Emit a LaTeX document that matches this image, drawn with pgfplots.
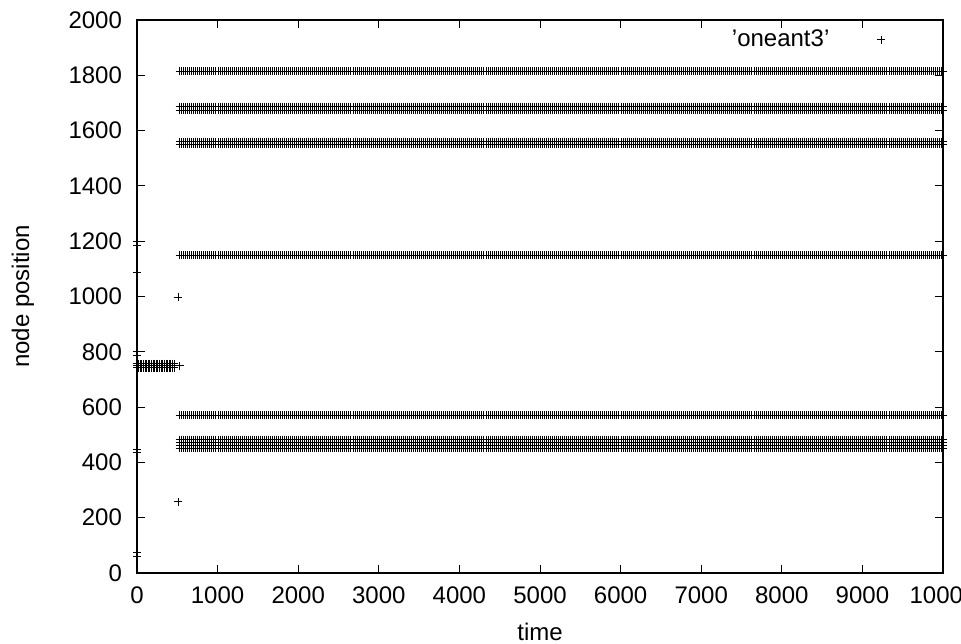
\documentclass[border=0pt]{standalone}
\usepackage{fontspec}
\setmainfont{Liberation Sans}
\usepackage{pgfplots}
\usepackage{pgfplotstable}
\pgfplotsset{compat=1.18}
\usetikzlibrary{calc}

\pgfplotstableread{
x w a b c d e f g h i j k
530 555 1815 1687 1673 1559 1551 1150 571 482 472 462 452
580 605 1815 1687 1673 1559 1551 1150 571 482 472 462 452
630 655 1815 1687 1673 1559 1551 1150 571 482 472 462 452
680 705 1815 1687 1673 1559 1551 1150 571 482 472 462 452
730 755 1815 1687 1673 1559 1551 1150 571 482 472 462 452
780 805 1815 1687 1673 1559 1551 1150 571 482 472 462 452
830 855 1815 1687 1673 1559 1551 1150 571 482 472 462 452
880 905 1815 1687 1673 1559 1551 1150 571 482 472 462 452
930 955 1815 1687 1673 1559 1551 1150 571 482 472 462 452
980 1005 1815 1687 1673 1559 1551 1150 571 482 472 462 452
1030 1055 1815 1687 1673 1559 1551 1150 571 482 472 462 452
1080 1105 1815 1687 1673 1559 1551 1150 571 482 472 462 452
1130 1155 1815 1687 1673 1559 1551 1150 571 482 472 462 452
1180 1205 1815 1687 1673 1559 1551 1150 571 482 472 462 452
1230 1255 1815 1687 1673 1559 1551 1150 571 482 472 462 452
1280 1305 1815 1687 1673 1559 1551 1150 571 482 472 462 452
1330 1355 1815 1687 1673 1559 1551 1150 571 482 472 462 452
1380 1405 1815 1687 1673 1559 1551 1150 571 482 472 462 452
1430 1455 1815 1687 1673 1559 1551 1150 571 482 472 462 452
1480 1505 1815 1687 1673 1559 1551 1150 571 482 472 462 452
1530 1555 1815 1687 1673 1559 1551 1150 571 482 472 462 452
1580 1605 1815 1687 1673 1559 1551 1150 571 482 472 462 452
1630 1655 1815 1687 1673 1559 1551 1150 571 482 472 462 452
1680 1705 1815 1687 1673 1559 1551 1150 571 482 472 462 452
1730 1755 1815 1687 1673 1559 1551 1150 571 482 472 462 452
1780 1805 1815 1687 1673 1559 1551 1150 571 482 472 462 452
1830 1855 1815 1687 1673 1559 1551 1150 571 482 472 462 452
1880 1905 1815 1687 1673 1559 1551 1150 571 482 472 462 452
1930 1955 1815 1687 1673 1559 1551 1150 571 482 472 462 452
1980 2005 1815 1687 1673 1559 1551 1150 571 482 472 462 452
2030 2055 1815 1687 1673 1559 1551 1150 571 482 472 462 452
2080 2105 1815 1687 1673 1559 1551 1150 571 482 472 462 452
2130 2155 1815 1687 1673 1559 1551 1150 571 482 472 462 452
2180 2205 1815 1687 1673 1559 1551 1150 571 482 472 462 452
2230 2255 1815 1687 1673 1559 1551 1150 571 482 472 462 452
2280 2305 1815 1687 1673 1559 1551 1150 571 482 472 462 452
2330 2355 1815 1687 1673 1559 1551 1150 571 482 472 462 452
2380 2405 1815 1687 1673 1559 1551 1150 571 482 472 462 452
2430 2455 1815 1687 1673 1559 1551 1150 571 482 472 462 452
2480 2505 1815 1687 1673 1559 1551 1150 571 482 472 462 452
2530 2555 1815 1687 1673 1559 1551 1150 571 482 472 462 452
2580 2605 1815 1687 1673 1559 1551 1150 571 482 472 462 452
2630 2655 1815 1687 1673 1559 1551 1150 571 482 472 462 452
2680 2705 1815 1687 1673 1559 1551 1150 571 482 472 462 452
2730 2755 1815 1687 1673 1559 1551 1150 571 482 472 462 452
2780 2805 1815 1687 1673 1559 1551 1150 571 482 472 462 452
2830 2855 1815 1687 1673 1559 1551 1150 571 482 472 462 452
2880 2905 1815 1687 1673 1559 1551 1150 571 482 472 462 452
2930 2955 1815 1687 1673 1559 1551 1150 571 482 472 462 452
2980 3005 1815 1687 1673 1559 1551 1150 571 482 472 462 452
3030 3055 1815 1687 1673 1559 1551 1150 571 482 472 462 452
3080 3105 1815 1687 1673 1559 1551 1150 571 482 472 462 452
3130 3155 1815 1687 1673 1559 1551 1150 571 482 472 462 452
3180 3205 1815 1687 1673 1559 1551 1150 571 482 472 462 452
3230 3255 1815 1687 1673 1559 1551 1150 571 482 472 462 452
3280 3305 1815 1687 1673 1559 1551 1150 571 482 472 462 452
3330 3355 1815 1687 1673 1559 1551 1150 571 482 472 462 452
3380 3405 1815 1687 1673 1559 1551 1150 571 482 472 462 452
3430 3455 1815 1687 1673 1559 1551 1150 571 482 472 462 452
3480 3505 1815 1687 1673 1559 1551 1150 571 482 472 462 452
3530 3555 1815 1687 1673 1559 1551 1150 571 482 472 462 452
3580 3605 1815 1687 1673 1559 1551 1150 571 482 472 462 452
3630 3655 1815 1687 1673 1559 1551 1150 571 482 472 462 452
3680 3705 1815 1687 1673 1559 1551 1150 571 482 472 462 452
3730 3755 1815 1687 1673 1559 1551 1150 571 482 472 462 452
3780 3805 1815 1687 1673 1559 1551 1150 571 482 472 462 452
3830 3855 1815 1687 1673 1559 1551 1150 571 482 472 462 452
3880 3905 1815 1687 1673 1559 1551 1150 571 482 472 462 452
3930 3955 1815 1687 1673 1559 1551 1150 571 482 472 462 452
3980 4005 1815 1687 1673 1559 1551 1150 571 482 472 462 452
4030 4055 1815 1687 1673 1559 1551 1150 571 482 472 462 452
4080 4105 1815 1687 1673 1559 1551 1150 571 482 472 462 452
4130 4155 1815 1687 1673 1559 1551 1150 571 482 472 462 452
4180 4205 1815 1687 1673 1559 1551 1150 571 482 472 462 452
4230 4255 1815 1687 1673 1559 1551 1150 571 482 472 462 452
4280 4305 1815 1687 1673 1559 1551 1150 571 482 472 462 452
4330 4355 1815 1687 1673 1559 1551 1150 571 482 472 462 452
4380 4405 1815 1687 1673 1559 1551 1150 571 482 472 462 452
4430 4455 1815 1687 1673 1559 1551 1150 571 482 472 462 452
4480 4505 1815 1687 1673 1559 1551 1150 571 482 472 462 452
4530 4555 1815 1687 1673 1559 1551 1150 571 482 472 462 452
4580 4605 1815 1687 1673 1559 1551 1150 571 482 472 462 452
4630 4655 1815 1687 1673 1559 1551 1150 571 482 472 462 452
4680 4705 1815 1687 1673 1559 1551 1150 571 482 472 462 452
4730 4755 1815 1687 1673 1559 1551 1150 571 482 472 462 452
4780 4805 1815 1687 1673 1559 1551 1150 571 482 472 462 452
4830 4855 1815 1687 1673 1559 1551 1150 571 482 472 462 452
4880 4905 1815 1687 1673 1559 1551 1150 571 482 472 462 452
4930 4955 1815 1687 1673 1559 1551 1150 571 482 472 462 452
4980 5005 1815 1687 1673 1559 1551 1150 571 482 472 462 452
5030 5055 1815 1687 1673 1559 1551 1150 571 482 472 462 452
5080 5105 1815 1687 1673 1559 1551 1150 571 482 472 462 452
5130 5155 1815 1687 1673 1559 1551 1150 571 482 472 462 452
5180 5205 1815 1687 1673 1559 1551 1150 571 482 472 462 452
5230 5255 1815 1687 1673 1559 1551 1150 571 482 472 462 452
5280 5305 1815 1687 1673 1559 1551 1150 571 482 472 462 452
5330 5355 1815 1687 1673 1559 1551 1150 571 482 472 462 452
5380 5405 1815 1687 1673 1559 1551 1150 571 482 472 462 452
5430 5455 1815 1687 1673 1559 1551 1150 571 482 472 462 452
5480 5505 1815 1687 1673 1559 1551 1150 571 482 472 462 452
5530 5555 1815 1687 1673 1559 1551 1150 571 482 472 462 452
5580 5605 1815 1687 1673 1559 1551 1150 571 482 472 462 452
5630 5655 1815 1687 1673 1559 1551 1150 571 482 472 462 452
5680 5705 1815 1687 1673 1559 1551 1150 571 482 472 462 452
5730 5755 1815 1687 1673 1559 1551 1150 571 482 472 462 452
5780 5805 1815 1687 1673 1559 1551 1150 571 482 472 462 452
5830 5855 1815 1687 1673 1559 1551 1150 571 482 472 462 452
5880 5905 1815 1687 1673 1559 1551 1150 571 482 472 462 452
5930 5955 1815 1687 1673 1559 1551 1150 571 482 472 462 452
5980 6005 1815 1687 1673 1559 1551 1150 571 482 472 462 452
6030 6055 1815 1687 1673 1559 1551 1150 571 482 472 462 452
6080 6105 1815 1687 1673 1559 1551 1150 571 482 472 462 452
6130 6155 1815 1687 1673 1559 1551 1150 571 482 472 462 452
6180 6205 1815 1687 1673 1559 1551 1150 571 482 472 462 452
6230 6255 1815 1687 1673 1559 1551 1150 571 482 472 462 452
6280 6305 1815 1687 1673 1559 1551 1150 571 482 472 462 452
6330 6355 1815 1687 1673 1559 1551 1150 571 482 472 462 452
6380 6405 1815 1687 1673 1559 1551 1150 571 482 472 462 452
6430 6455 1815 1687 1673 1559 1551 1150 571 482 472 462 452
6480 6505 1815 1687 1673 1559 1551 1150 571 482 472 462 452
6530 6555 1815 1687 1673 1559 1551 1150 571 482 472 462 452
6580 6605 1815 1687 1673 1559 1551 1150 571 482 472 462 452
6630 6655 1815 1687 1673 1559 1551 1150 571 482 472 462 452
6680 6705 1815 1687 1673 1559 1551 1150 571 482 472 462 452
6730 6755 1815 1687 1673 1559 1551 1150 571 482 472 462 452
6780 6805 1815 1687 1673 1559 1551 1150 571 482 472 462 452
6830 6855 1815 1687 1673 1559 1551 1150 571 482 472 462 452
6880 6905 1815 1687 1673 1559 1551 1150 571 482 472 462 452
6930 6955 1815 1687 1673 1559 1551 1150 571 482 472 462 452
6980 7005 1815 1687 1673 1559 1551 1150 571 482 472 462 452
7030 7055 1815 1687 1673 1559 1551 1150 571 482 472 462 452
7080 7105 1815 1687 1673 1559 1551 1150 571 482 472 462 452
7130 7155 1815 1687 1673 1559 1551 1150 571 482 472 462 452
7180 7205 1815 1687 1673 1559 1551 1150 571 482 472 462 452
7230 7255 1815 1687 1673 1559 1551 1150 571 482 472 462 452
7280 7305 1815 1687 1673 1559 1551 1150 571 482 472 462 452
7330 7355 1815 1687 1673 1559 1551 1150 571 482 472 462 452
7380 7405 1815 1687 1673 1559 1551 1150 571 482 472 462 452
7430 7455 1815 1687 1673 1559 1551 1150 571 482 472 462 452
7480 7505 1815 1687 1673 1559 1551 1150 571 482 472 462 452
7530 7555 1815 1687 1673 1559 1551 1150 571 482 472 462 452
7580 7605 1815 1687 1673 1559 1551 1150 571 482 472 462 452
7630 7655 1815 1687 1673 1559 1551 1150 571 482 472 462 452
7680 7705 1815 1687 1673 1559 1551 1150 571 482 472 462 452
7730 7755 1815 1687 1673 1559 1551 1150 571 482 472 462 452
7780 7805 1815 1687 1673 1559 1551 1150 571 482 472 462 452
7830 7855 1815 1687 1673 1559 1551 1150 571 482 472 462 452
7880 7905 1815 1687 1673 1559 1551 1150 571 482 472 462 452
7930 7955 1815 1687 1673 1559 1551 1150 571 482 472 462 452
7980 8005 1815 1687 1673 1559 1551 1150 571 482 472 462 452
8030 8055 1815 1687 1673 1559 1551 1150 571 482 472 462 452
8080 8105 1815 1687 1673 1559 1551 1150 571 482 472 462 452
8130 8155 1815 1687 1673 1559 1551 1150 571 482 472 462 452
8180 8205 1815 1687 1673 1559 1551 1150 571 482 472 462 452
8230 8255 1815 1687 1673 1559 1551 1150 571 482 472 462 452
8280 8305 1815 1687 1673 1559 1551 1150 571 482 472 462 452
8330 8355 1815 1687 1673 1559 1551 1150 571 482 472 462 452
8380 8405 1815 1687 1673 1559 1551 1150 571 482 472 462 452
8430 8455 1815 1687 1673 1559 1551 1150 571 482 472 462 452
8480 8505 1815 1687 1673 1559 1551 1150 571 482 472 462 452
8530 8555 1815 1687 1673 1559 1551 1150 571 482 472 462 452
8580 8605 1815 1687 1673 1559 1551 1150 571 482 472 462 452
8630 8655 1815 1687 1673 1559 1551 1150 571 482 472 462 452
8680 8705 1815 1687 1673 1559 1551 1150 571 482 472 462 452
8730 8755 1815 1687 1673 1559 1551 1150 571 482 472 462 452
8780 8805 1815 1687 1673 1559 1551 1150 571 482 472 462 452
8830 8855 1815 1687 1673 1559 1551 1150 571 482 472 462 452
8880 8905 1815 1687 1673 1559 1551 1150 571 482 472 462 452
8930 8955 1815 1687 1673 1559 1551 1150 571 482 472 462 452
8980 9005 1815 1687 1673 1559 1551 1150 571 482 472 462 452
9030 9055 1815 1687 1673 1559 1551 1150 571 482 472 462 452
9080 9105 1815 1687 1673 1559 1551 1150 571 482 472 462 452
9130 9155 1815 1687 1673 1559 1551 1150 571 482 472 462 452
9180 9205 1815 1687 1673 1559 1551 1150 571 482 472 462 452
9230 9255 1815 1687 1673 1559 1551 1150 571 482 472 462 452
9280 9305 1815 1687 1673 1559 1551 1150 571 482 472 462 452
9330 9355 1815 1687 1673 1559 1551 1150 571 482 472 462 452
9380 9405 1815 1687 1673 1559 1551 1150 571 482 472 462 452
9430 9455 1815 1687 1673 1559 1551 1150 571 482 472 462 452
9480 9505 1815 1687 1673 1559 1551 1150 571 482 472 462 452
9530 9555 1815 1687 1673 1559 1551 1150 571 482 472 462 452
9580 9605 1815 1687 1673 1559 1551 1150 571 482 472 462 452
9630 9655 1815 1687 1673 1559 1551 1150 571 482 472 462 452
9680 9705 1815 1687 1673 1559 1551 1150 571 482 472 462 452
9730 9755 1815 1687 1673 1559 1551 1150 571 482 472 462 452
9780 9805 1815 1687 1673 1559 1551 1150 571 482 472 462 452
9830 9855 1815 1687 1673 1559 1551 1150 571 482 472 462 452
9880 9905 1815 1687 1673 1559 1551 1150 571 482 472 462 452
9930 9955 1815 1687 1673 1559 1551 1150 571 482 472 462 452
9980 9990 1815 1687 1673 1559 1551 1150 571 482 472 462 452
10000 10000 1815 1687 1673 1559 1551 1150 571 482 472 462 452
}\rows

\pgfplotstableread{
x a b c
0 742 749 756
20 742 749 756
40 742 749 756
60 742 749 756
80 742 749 756
100 742 749 756
120 742 749 756
140 742 749 756
160 742 749 756
180 742 749 756
200 742 749 756
220 742 749 756
240 742 749 756
260 742 749 756
280 742 749 756
300 742 749 756
320 742 749 756
340 742 749 756
360 742 749 756
380 742 749 756
400 742 749 756
420 742 749 756
440 742 749 756
460 742 749 756
}\cluster

\begin{document}
\begin{tikzpicture}
\pgfplotsset{
  every axis/.append style={font=\fontsize{12}{14}\selectfont},
  /pgf/number format/1000 sep={},
  pt/.style={only marks, mark=+, mark size=2pt, black, line width=0.5pt},
}
\begin{axis}[
  name=ax,
  scale only axis,
  width=403pt, height=276.5pt,
  xmin=0, xmax=10000, ymin=0, ymax=2000,
  xtick={0,1000,...,10000},
  ytick={0,200,...,2000},
  scaled x ticks=false,
  /pgf/number format/assume math mode=true,
  tick align=inside,
  major tick length=4pt,
  tick style={black, line width=0.5pt},
  axis line style={black, line width=0.6pt},
  yticklabel style={xshift=-4pt},
  xticklabel style={yshift=-3.5pt},
  xlabel={time},
  ylabel={node position},
  every axis x label/.style={at={(axis description cs:0.5,-0.1067)}, anchor=center},
  every axis y label/.style={at={(axis description cs:-0.1414,0.5)}, rotate=90, anchor=center},
  legend plot pos=right,
  legend style={draw=none, fill=none, at={(axis description cs:0.991,0.964)}, anchor=east, font=\fontsize{12}{14}\selectfont},
  legend image code/.code={\path[draw=none] (0pt,0pt) -- (48pt,0pt); \draw[#1, only marks] plot coordinates {(24pt,0pt)};},
]
\addplot[pt] table[x=x, y=a] {\rows};
\addlegendentry{'oneant3'}
\addplot[pt, forget plot] table[x=w, y=a] {\rows};
\addplot[pt, forget plot] table[x=x, y=b] {\rows};
\addplot[pt, forget plot] table[x=w, y=b] {\rows};
\addplot[pt, forget plot] table[x=x, y=c] {\rows};
\addplot[pt, forget plot] table[x=w, y=c] {\rows};
\addplot[pt, forget plot] table[x=x, y=d] {\rows};
\addplot[pt, forget plot] table[x=w, y=d] {\rows};
\addplot[pt, forget plot] table[x=x, y=e] {\rows};
\addplot[pt, forget plot] table[x=w, y=e] {\rows};
\addplot[pt, forget plot] table[x=x, y=f] {\rows};
\addplot[pt, forget plot] table[x=w, y=f] {\rows};
\addplot[pt, forget plot] table[x=x, y=g] {\rows};
\addplot[pt, forget plot] table[x=w, y=g] {\rows};
\addplot[pt, forget plot] table[x=x, y=h] {\rows};
\addplot[pt, forget plot] table[x=w, y=h] {\rows};
\addplot[pt, forget plot] table[x=x, y=i] {\rows};
\addplot[pt, forget plot] table[x=w, y=i] {\rows};
\addplot[pt, forget plot] table[x=x, y=j] {\rows};
\addplot[pt, forget plot] table[x=w, y=j] {\rows};
\addplot[pt, forget plot] table[x=x, y=k] {\rows};
\addplot[pt, forget plot] table[x=w, y=k] {\rows};
\addplot[pt, forget plot] table[x=x, y=a] {\cluster};
\addplot[pt, forget plot] table[x=x, y=b] {\cluster};
\addplot[pt, forget plot] table[x=x, y=c] {\cluster};
\addplot[pt, forget plot, clip=false] coordinates {
  (0,1198) (0,1186) (0,1087) (0,800) (0,785) (0,448) (0,437) (0,73) (0,61)
  (509,998) (509,257) (533,750)
};
\end{axis}
\pgfresetboundingbox
\path[use as bounding box] ($(ax.south west)+(-68.5pt,-35pt)$) rectangle ($(ax.north east)+(9pt,10pt)$);
\end{tikzpicture}
\end{document}
